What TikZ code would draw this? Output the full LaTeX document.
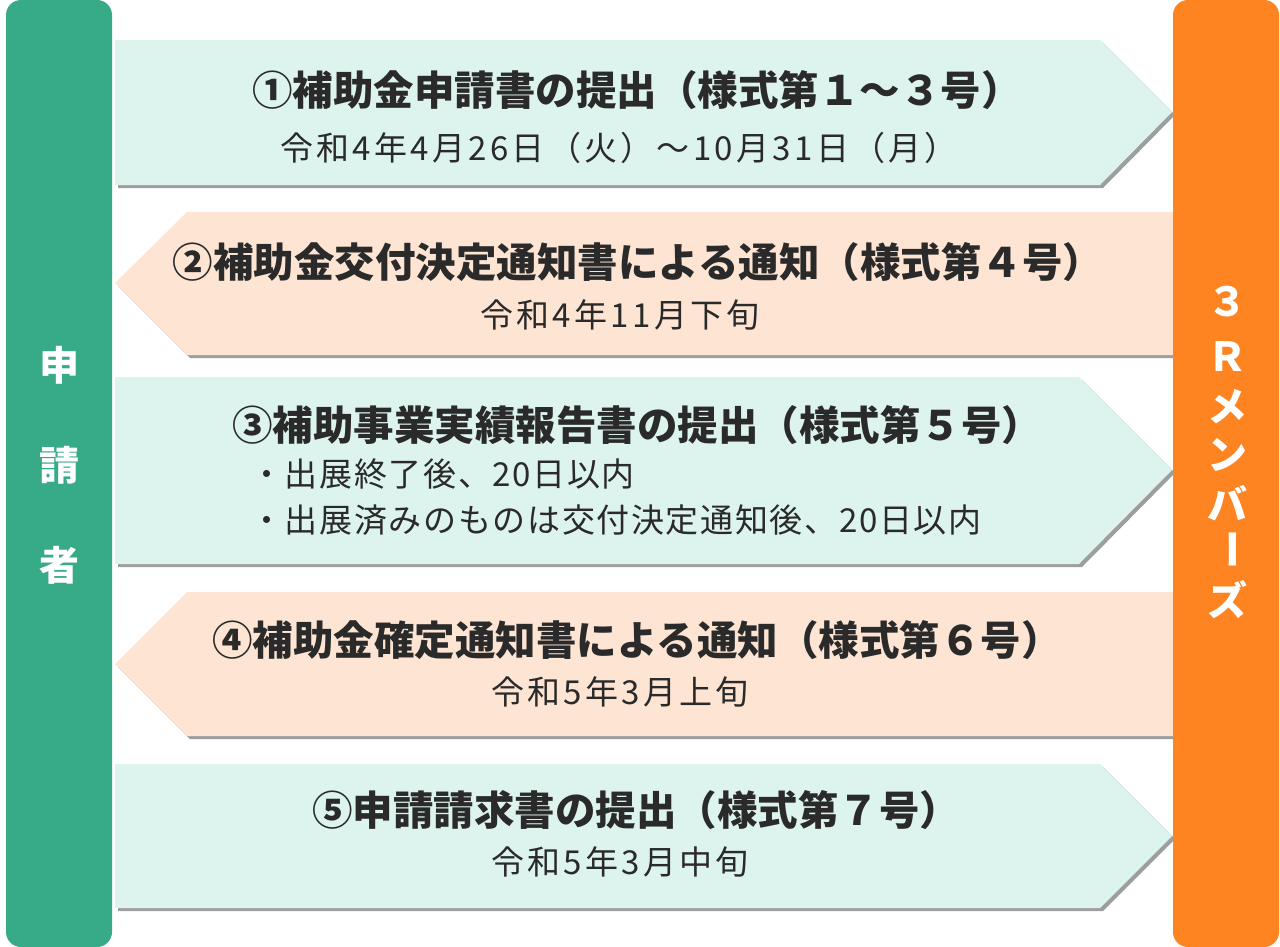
\documentclass[tikz,border=0pt]{standalone}
\usepackage{fontspec}
\newfontfamily\jp{Noto Sans CJK JP}
\newfontfamily\jpwide[LetterSpace=10]{Noto Sans CJK JP}
\newfontfamily\jpnote[LetterSpace=5]{Noto Sans CJK JP}
\definecolor{mint}{HTML}{DDF4EE}
\definecolor{peach}{HTML}{FDE4D3}
\definecolor{applgreen}{HTML}{37AA88}
\definecolor{memberorange}{HTML}{FD8421}
\definecolor{ink}{HTML}{2A2A2A}
\tikzset{
  every picture/.style={line join=round, line cap=round},
  dropshade/.style={fill=black!38, xshift=3pt, yshift=-3pt},
  titletext/.style={font=\jp\bfseries\fontsize{40.5}{46}\selectfont, text=ink, inner sep=0pt},
  datetext/.style={font=\jpwide\fontsize{33}{38}\selectfont, text=ink, inner sep=0pt},
  notetext/.style={font=\jpnote\fontsize{33}{38}\selectfont, text=ink, inner sep=0pt, anchor=west},
  sidetext/.style={font=\jp\bfseries\fontsize{40}{44}\selectfont, text=white, inner sep=0pt},
}

\begin{document}
\begin{tikzpicture}[x=1pt,y=-1pt]
\useasboundingbox (0,0) rectangle (1280,947);
% shadows
\fill[dropshade](115,40)--(1100,40)--(1172,112)--(1100,185)--(115,185)--cycle;
\fill[dropshade](1173,212)--(187,212)--(115,283)--(187,355)--(1173,355)--cycle;
\fill[dropshade](115,377)--(1079,377)--(1172,470)--(1079,564)--(115,564)--cycle;
\fill[dropshade](1173,592)--(187,592)--(115,664)--(187,736)--(1173,736)--cycle;
\fill[dropshade](115,764)--(1100,764)--(1172,836)--(1100,908)--(115,908)--cycle;
% bands
\fill[mint](115,40)--(1100,40)--(1172,112)--(1100,185)--(115,185)--cycle;
\fill[peach](1173,212)--(187,212)--(115,283)--(187,355)--(1173,355)--cycle;
\fill[mint](115,377)--(1079,377)--(1172,470)--(1079,564)--(115,564)--cycle;
\fill[peach](1173,592)--(187,592)--(115,664)--(187,736)--(1173,736)--cycle;
\fill[mint](115,764)--(1100,764)--(1172,836)--(1100,908)--(115,908)--cycle;
% side bars
\fill[applgreen,rounded corners=15](6,0)rectangle(112,947);
\fill[memberorange,rounded corners=15](1173,0)rectangle(1279,947);
\foreach \ch/\yy [count=\i] in {申/365,請/465,者/565}
  \node[sidetext] (a\i) at (59,\yy) {\ch};
\foreach \ch/\yy/\rot [count=\i] in {３/302/0,Ｒ/357/0,メ/407/0,ン/455/0,バ/503/0,ー/549/-90,ズ/600/0}
  \node[sidetext,rotate=\rot] (m\i) at (1227,\yy) {\ch};
% texts
\node[titletext] (t1) at (637,90) {①補助金申請書の提出（様式第１～３号）};
\node[datetext] (d1) at (619,148) {令和4年4月26日（火）～10月31日（月）};
\node[titletext] (t2) at (638,262) {②補助金交付決定通知書による通知（様式第４号）};
\node[datetext] (d2) at (620,315) {令和4年11月下旬};
\node[titletext] (t3) at (637,425) {③補助事業実績報告書の提出（様式第５号）};
\node[notetext] (b1) at (250,474) {・出展終了後、20日以内};
\node[notetext] (b2) at (250,520) {・出展済みのものは交付決定通知後、20日以内};
\node[titletext] (t4) at (637,640) {④補助金確定通知書による通知（様式第６号）};
\node[datetext] (d4) at (620,692) {令和5年3月上旬};
\node[titletext] (t5) at (636,810) {⑤申請請求書の提出（様式第７号）};
\node[datetext] (d5) at (620,862) {令和5年3月中旬};
\end{tikzpicture}
\end{document}
